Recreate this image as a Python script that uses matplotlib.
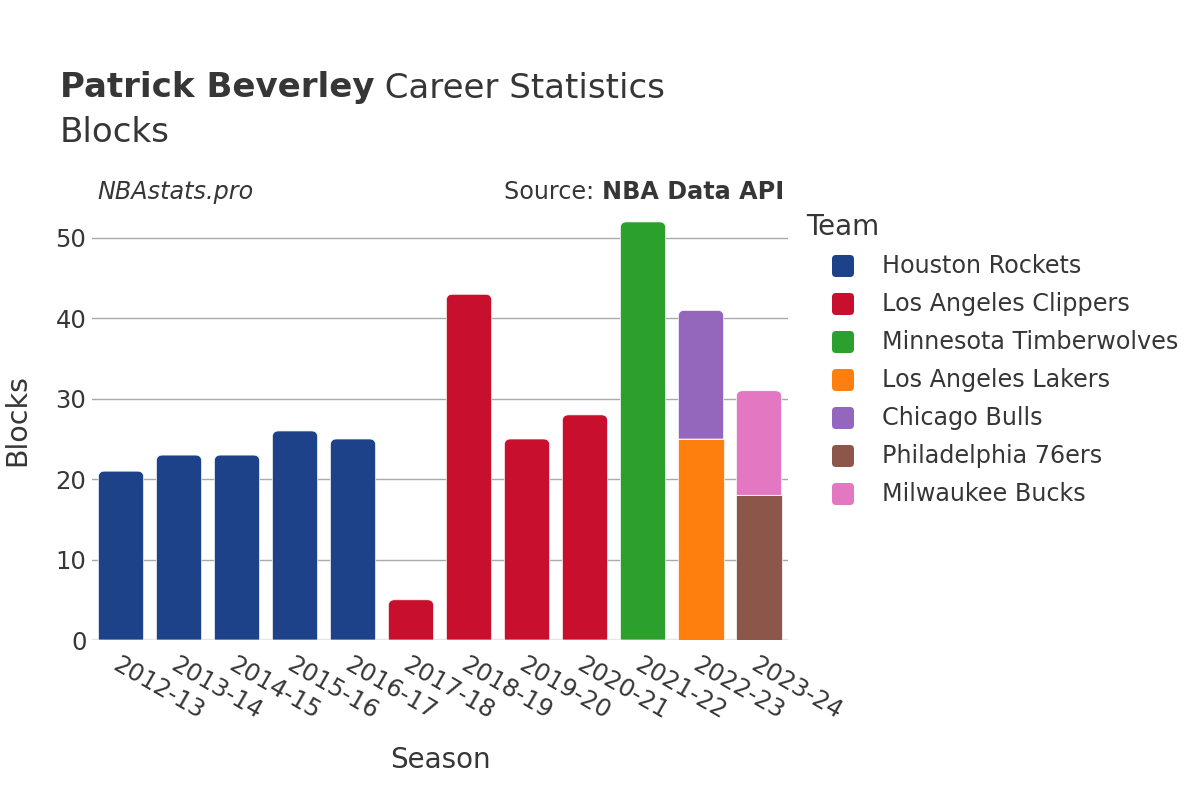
import matplotlib
matplotlib.use("Agg")
import matplotlib.pyplot as plt
from matplotlib.patches import FancyBboxPatch, PathPatch
from matplotlib.path import Path
import numpy as np

SEASONS = ["2012-13", "2013-14", "2014-15", "2015-16", "2016-17", "2017-18",
           "2018-19", "2019-20", "2020-21", "2021-22", "2022-23", "2023-24"]
TEAMS = ["Houston Rockets", "Los Angeles Clippers", "Minnesota Timberwolves",
         "Los Angeles Lakers", "Chicago Bulls", "Philadelphia 76ers", "Milwaukee Bucks"]
COLORS = ["#1d428a", "#c8102e", "#2ca02c", "#ff7f0e", "#9467bd", "#8c564b", "#e377c2"]
# blocks per season, one list per team (0 = did not play for that team)
HOU = [21, 23, 23, 26, 25, 0, 0, 0, 0, 0, 0, 0]
LAC = [0, 0, 0, 0, 0, 5, 43, 25, 28, 0, 0, 0]
MIN = [0, 0, 0, 0, 0, 0, 0, 0, 0, 52, 0, 0]
LAL = [0, 0, 0, 0, 0, 0, 0, 0, 0, 0, 25, 0]
CHI = [0, 0, 0, 0, 0, 0, 0, 0, 0, 0, 16, 0]
PHI = [0, 0, 0, 0, 0, 0, 0, 0, 0, 0, 0, 18]
MIL = [0, 0, 0, 0, 0, 0, 0, 0, 0, 0, 0, 13]
VALUES = [HOU, LAC, MIN, LAL, CHI, PHI, MIL]

INK = "#363636"
W, H = 1200, 800
plt.rcParams.update({"font.family": "DejaVu Sans", "text.color": INK})
fig = plt.figure(figsize=(12, 8), dpi=100)
ax = fig.add_axes([92 / W, 1 - 640 / H, 696 / W, 439 / H])

x = np.arange(len(SEASONS))
ax.set_xlim(-0.5, len(SEASONS) - 0.5)
ax.set_ylim(0, 54.6)

# data units per pixel, used for round corners of constant pixel radius
px_x = (ax.get_xlim()[1] - ax.get_xlim()[0]) / 696
px_y = (ax.get_ylim()[1] - ax.get_ylim()[0]) / 439
rx, ry = 6 * px_x, 6 * px_y

bottom = np.zeros(len(SEASONS))
tops = {}
for team, vals, col in zip(TEAMS, VALUES, COLORS):
    vals = np.array(vals, dtype=float)
    bars = ax.bar(x, vals, 0.78, bottom=bottom, color=col, edgecolor="white",
                  linewidth=0.5, zorder=3)
    for i, b in enumerate(bars):
        if vals[i] > 0:
            tops[i] = b
    bottom += vals

# the top segment of each stack gets rounded top corners
for i, b in tops.items():
    b.set_visible(False)
    x0, y0 = b.get_x(), b.get_y()
    x1, y1 = x0 + b.get_width(), y0 + b.get_height()
    verts = [(x0, y0), (x0, y1 - ry), (x0, y1), (x0 + rx, y1), (x1 - rx, y1),
             (x1, y1), (x1, y1 - ry), (x1, y0), (x0, y0)]
    codes = [Path.MOVETO, Path.LINETO, Path.CURVE3, Path.CURVE3, Path.LINETO,
             Path.CURVE3, Path.CURVE3, Path.LINETO, Path.CLOSEPOLY]
    ax.add_patch(PathPatch(Path(verts, codes), facecolor=b.get_facecolor(),
                           edgecolor="white", linewidth=0.5, zorder=3))

ax.set_yticks([0, 10, 20, 30, 40, 50])
ax.grid(axis="y", color="#aaaaaa", lw=1, zorder=0)
ax.axhline(0, color="#e6e6e6", lw=2.5, zorder=2)
for sp in ax.spines.values():
    sp.set_visible(False)
ax.tick_params(axis="both", length=0, labelsize=17.5, labelcolor=INK)
ax.tick_params(axis="y", pad=4)
ax.set_xticks(x)
ax.set_xticklabels(SEASONS, rotation=-30, ha="left", va="top", rotation_mode="anchor")
ax.tick_params(axis="x", pad=9)

fig.text(17 / W, 1 - 420 / H, "Blocks", rotation=90, ha="center", va="center", fontsize=20.5)
fig.text(440 / W, 1 - 760 / H, "Season", ha="center", va="center", fontsize=20)

# title
renderer = fig.canvas.get_renderer()
t1 = fig.text(60 / W, 1 - 88 / H, "Patrick Beverley", fontsize=24.5, fontweight="bold",
              ha="left", va="center")
bb = t1.get_window_extent(renderer)
fig.text(bb.x1 / W, 1 - 88 / H, " Career Statistics", fontsize=24.5, ha="left", va="center")
fig.text(60 / W, 1 - 132 / H, "Blocks", fontsize=24.5, ha="left", va="center")

fig.text(97 / W, 1 - 192 / H, "NBAstats.pro", fontsize=17.2, style="italic",
         ha="left", va="center")
s2 = fig.text(784 / W, 1 - 192 / H, "NBA Data API", fontsize=17.2, fontweight="bold",
              ha="right", va="center")
bb2 = s2.get_window_extent(renderer)
fig.text(bb2.x0 / W, 1 - 192 / H, "Source: ", fontsize=17.2, ha="right", va="center")

# legend
fig.text(806 / W, 1 - 227 / H, "Team", fontsize=20, ha="left", va="center")
for k, (team, col) in enumerate(zip(TEAMS, COLORS)):
    yc = 266 + 38 * k
    s = 22
    fig.patches.append(FancyBboxPatch(((843 - s / 2) / W, 1 - (yc + s / 2) / H), s / W, s / H,
                                      boxstyle=f"round,pad=0,rounding_size={4 / W}",
                                      mutation_aspect=W / H, facecolor=col, edgecolor="none",
                                      transform=fig.transFigure, figure=fig))
    fig.text(882 / W, 1 - yc / H, team, fontsize=17.2, ha="left", va="center")

fig.savefig("out.png", dpi=100, facecolor="white")
